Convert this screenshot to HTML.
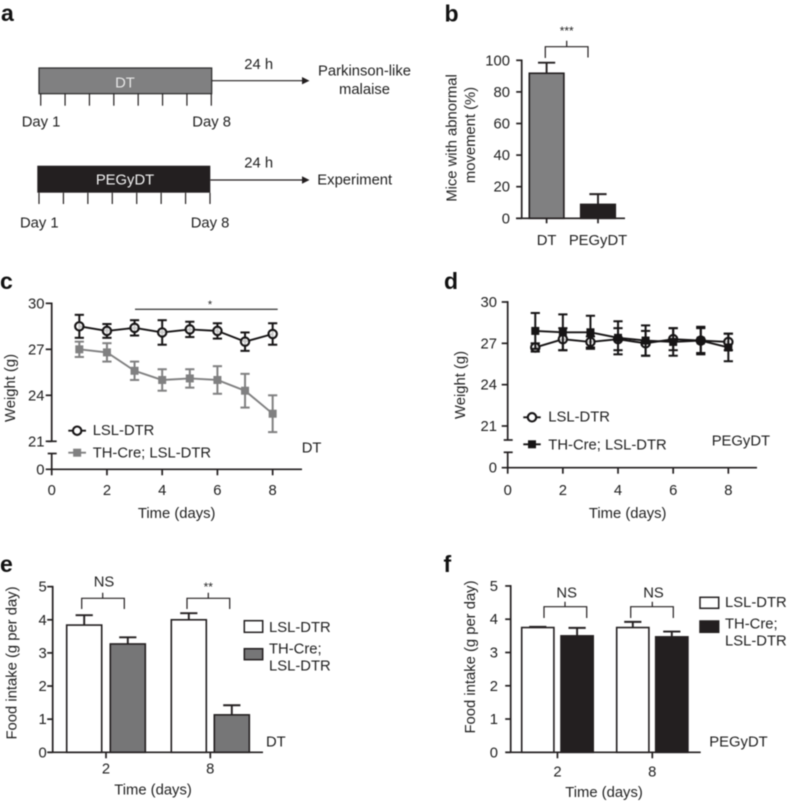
<!DOCTYPE html>
<html lang="en">
<head>
<meta charset="utf-8">
<title>Weight and food intake panels</title>
<style>
html,body{margin:0;padding:0;background:#fff;width:788px;height:802px;overflow:hidden}
svg{display:block;filter:blur(0.4px)}
text{font-family:"Liberation Sans",Arial,sans-serif;font-size:14.8px;fill:#1f1f1f}
.letter{font-size:23px;font-weight:bold;fill:#111}
.mid{text-anchor:middle}
.end{text-anchor:end}
.ax{stroke:#231f20;stroke-width:1.5;fill:none}
</style>
</head>
<body>
<svg id="fig" xmlns="http://www.w3.org/2000/svg" width="788" height="802" viewBox="0 0 788 802">
<rect width="788" height="802" fill="#fff"/>

<g id="panel-a">
<text class="letter" x="1" y="21">a</text>
<rect x="39" y="68" width="172.7" height="25.7" fill="#808081" stroke="#2a2a2a" stroke-width="1.2"/>
<text class="mid" x="125" y="87.3" style="fill:#e6e6e6">DT</text>
<rect x="37.3" y="165.7" width="173" height="27" fill="#231f20"/>
<text class="mid" x="125" y="184.3" style="fill:#f2f2f2">PEGyDT</text>
<text x="21.7" y="126.7">Day 1</text>
<text x="192.3" y="126.7">Day 8</text>
<text x="20" y="227.7">Day 1</text>
<text x="190.7" y="227.7">Day 8</text>
<text x="244.3" y="69">24 h</text>
<text x="244.3" y="167.7">24 h</text>
<line class="ax" x1="211.7" y1="80.7" x2="303" y2="80.7" style="stroke-width:1.2"/>
<polygon points="302,77 309.5,80.7 302,84.4" fill="#231f20"/>
<line class="ax" x1="210.3" y1="180" x2="303" y2="180" style="stroke-width:1.2"/>
<polygon points="302,176.3 309.5,180 302,183.7" fill="#231f20"/>
<text class="mid" x="364.5" y="75.7">Parkinson-like</text>
<text class="mid" x="364.5" y="94">malaise</text>
<text x="317.3" y="184.3">Experiment</text>
</g>

<g id="panel-b">
<text class="letter" x="444.5" y="21.5">b</text>
<text class="mid" transform="translate(456.5 138) rotate(-90)">Mice with abnormal</text>
<text class="mid" transform="translate(475 135) rotate(-90)">movement (%)</text>
<text class="mid" x="566.7" y="35" style="font-size:12px">***</text>
<path class="ax" style="stroke-width:1.2" d="M545.3 58V46.7H588V57.5M566.7 46.7V40.7"/>
</g>

<g id="panel-c">
<text class="letter" x="0" y="289">c</text>
<text class="mid" transform="translate(15 388) rotate(-90)">Weight (g)</text>
<text class="mid" x="176.7" y="518">Time (days)</text>
<line x1="135" y1="309.3" x2="277.7" y2="309.3" stroke="#444" stroke-width="1.4"/>
<text class="mid" x="210" y="308" style="font-size:11px">*</text>
<text x="92.7" y="435">LSL-DTR</text>
<text x="92.7" y="457.7">TH-Cre; LSL-DTR</text>
<text x="301.7" y="452.7">DT</text>
</g>

<g id="panel-d">
<text class="letter" x="444" y="289">d</text>
<text class="mid" transform="translate(465 385) rotate(-90)">Weight (g)</text>
<text class="mid" x="627.7" y="518">Time (days)</text>
<text x="548.3" y="421.7">LSL-DTR</text>
<text x="548.3" y="449.3">TH-Cre; LSL-DTR</text>
<text x="711.7" y="445.7">PEGyDT</text>
</g>

<g id="panel-e">
<text class="letter" x="0" y="572">e</text>
<text class="mid" transform="translate(16.7 663) rotate(-90)">Food intake (g per day)</text>
<text class="mid" x="153" y="794.3">Time (days)</text>
<text class="mid" x="104" y="586.7">NS</text>
<text class="mid" x="208.3" y="591" style="font-size:12px">**</text>
<path class="ax" style="stroke-width:1.2" d="M81.7 609V598.3H124.3V609M102.7 598.3V592.7"/>
<path class="ax" style="stroke-width:1.2" d="M187 609V598.3H229.7V609M208.3 598.3V592.7"/>
<rect x="244.3" y="620.7" width="18.4" height="11.6" fill="#fff" stroke="#231f20" stroke-width="1.5"/>
<rect x="244.3" y="648.7" width="18.4" height="11" fill="#767677" stroke="#231f20" stroke-width="1.5"/>
<text x="269" y="632">LSL-DTR</text>
<text x="269" y="653.5">TH-Cre;</text>
<text x="269" y="670.7">LSL-DTR</text>
<text x="266" y="746.7">DT</text>
</g>

<g id="panel-f">
<text class="letter" x="443.5" y="572">f</text>
<text class="mid" transform="translate(475 657) rotate(-90)">Food intake (g per day)</text>
<text class="mid" x="604" y="797">Time (days)</text>
<text class="mid" x="566.7" y="597.3">NS</text>
<text class="mid" x="653.5" y="597.3">NS</text>
<path class="ax" style="stroke-width:1.2" d="M544 618V606.7H586.7V618M565 606.7V601.7"/>
<path class="ax" style="stroke-width:1.2" d="M630.7 618V606.7H673.3V618M652.3 606.7V601.7"/>
<rect x="700" y="597.3" width="18.7" height="11" fill="#fff" stroke="#231f20" stroke-width="1.5"/>
<rect x="700" y="621" width="18.7" height="11.3" fill="#231f20" stroke="#231f20" stroke-width="1.5"/>
<text x="725" y="607">LSL-DTR</text>
<text x="725" y="628.3">TH-Cre;</text>
<text x="725" y="645.7">LSL-DTR</text>
<text x="709.3" y="746.7">PEGyDT</text>
</g>
</svg>

<script>
/* ---------- chart data ---------- */
var days = [1, 2, 3, 4, 5, 6, 7, 8];
var weightXTicks = [0, 2, 4, 6, 8];
var weightYTicks = [21, 24, 27, 30];

var cLslMean = [28.5, 28.2, 28.4, 28.1, 28.3, 28.2, 27.5, 28.0];
var cLslErr  = [0.75, 0.45, 0.5, 0.8, 0.5, 0.5, 0.6, 0.7];
var cThMean  = [27.0, 26.8, 25.6, 25.0, 25.1, 25.0, 24.3, 22.8];
var cThErr   = [0.5, 0.6, 0.6, 0.7, 0.6, 0.9, 1.1, 1.2];

var dLslMean = [26.7, 27.3, 27.1, 27.3, 27.0, 27.3, 27.2, 27.1];
var dLslErr  = [0.3, 0.8, 0.4, 0.8, 0.9, 0.8, 0.9, 0.6];
var dThMean  = [27.9, 27.8, 27.8, 27.4, 27.2, 27.1, 27.2, 26.7];
var dThErr   = [1.3, 1.3, 1.2, 1.2, 1.1, 1.0, 1.0, 1.0];

var bCategories = ['DT', 'PEGyDT'];
var bValues = [91.8, 8.8];
var bErrors = [6.7, 6.5];
var bYTicks = [0, 20, 40, 60, 80, 100];

var foodCategories = ['2', '8'];
var foodYTicks = [0, 1, 2, 3, 4, 5];
var eLslValues = [3.84, 4.0];
var eLslErrors = [0.3, 0.2];
var eThValues = [3.27, 1.13];
var eThErrors = [0.2, 0.29];
var fLslValues = [3.75, 3.75];
var fLslErrors = [0.02, 0.17];
var fThValues = [3.5, 3.47];
var fThErrors = [0.24, 0.16];

/* ---------- helpers ---------- */
var NS = 'http://www.w3.org/2000/svg';
function make(parent, tag, attrs, name) {
  var el = document.createElementNS(NS, tag);
  for (var k in attrs) { el.setAttribute(k, attrs[k]); }
  
  
  parent.appendChild(el);
  return el;
}
function seg(parent, x1, y1, x2, y2, color, w, name) {
  return make(parent, 'line', {x1: x1, y1: y1, x2: x2, y2: y2, stroke: color, 'stroke-width': w}, name);
}
function label(parent, x, y, str, anchor, name) {
  var el = make(parent, 'text', {x: x, y: y, 'text-anchor': anchor}, name);
  el.textContent = str;
  return el;
}
var INK = '#231f20';
var GREY = '#808081';
var AXW = 1.7;

/* ---------- line charts (c, d) ---------- */
function drawWeight(opts) {
  var g = document.getElementById(opts.panel);
  var x = function (d) { return opts.x0 + d * opts.xUnit; };
  var y = function (v) { return opts.y21 - (v - 21) * opts.yUnit; };

  // axes
  seg(g, opts.x0, y(30) - 0.8, opts.x0, opts.breakTop, INK, AXW, 'y-axis-upper');
  seg(g, opts.x0, opts.breakBottom, opts.x0, opts.y0, INK, AXW, 'y-axis-lower');
  seg(g, opts.x0 - 4, opts.breakTop, opts.x0 + 5, opts.breakTop, INK, AXW, 'y-axis-break-top');
  seg(g, opts.x0 - 4, opts.breakBottom, opts.x0 + 5, opts.breakBottom, INK, AXW, 'y-axis-break-bottom');
  seg(g, opts.x0 - 6, opts.y0, opts.xEnd, opts.y0, INK, AXW, 'x-axis');
  weightYTicks.forEach(function (t) {
    seg(g, opts.x0 - 6, y(t), opts.x0, y(t), INK, AXW, 'y-tick');
    label(g, opts.labelRight, y(t) + 5, String(t), 'end', 'y-tick-label');
  });
  label(g, opts.labelRight, opts.y0 + 5, '0', 'end', 'y-tick-label-zero');
  weightXTicks.forEach(function (t) {
    seg(g, x(t), opts.y0, x(t), opts.y0 + 6, INK, AXW, 'x-tick');
    label(g, x(t), 495, String(t), 'middle', 'x-tick-label');
  });

  function series(means, errs, color, kind, name) {
    var pts = days.map(function (d, i) { return x(d) + ',' + y(means[i]); }).join(' ');
    make(g, 'polyline', {points: pts, fill: 'none', stroke: color, 'stroke-width': 1.9}, name + '-line');
    days.forEach(function (d, i) {
      var px = x(d), hi = y(means[i] + errs[i]), lo = y(means[i] - errs[i]), py = y(means[i]);
      seg(g, px, hi, px, lo, color, 2, name + '-error-bar');
      seg(g, px - 4.6, hi, px + 4.6, hi, color, 2, name + '-error-cap-high');
      seg(g, px - 4.6, lo, px + 4.6, lo, color, 2, name + '-error-cap-low');
      if (kind === 'circle') {
        make(g, 'circle', {cx: px, cy: py, r: 4.2, fill: 'rgba(255,255,255,0.78)', stroke: color, 'stroke-width': 2.1}, name + '-point');
      } else {
        make(g, 'rect', {x: px - 4, y: py - 4, width: 8, height: 8, fill: color}, name + '-point');
      }
    });
  }
  // later series paints on top, as in the source figure
  opts.series.forEach(function (s) { series(s.means, s.errs, s.color, s.kind, s.name); });

  // legend keys
  opts.series.forEach(function (s) {
    seg(g, opts.legendX1, s.legendY, opts.legendX2, s.legendY, s.color, 1.9, s.name + '-legend-line');
    var mx = (opts.legendX1 + opts.legendX2) / 2;
    if (s.kind === 'circle') {
      make(g, 'circle', {cx: mx, cy: s.legendY, r: 4.2, fill: '#fff', stroke: s.color, 'stroke-width': 2.1}, s.name + '-legend-marker');
    } else {
      make(g, 'rect', {x: mx - 4, y: s.legendY - 4, width: 8, height: 8, fill: s.color}, s.name + '-legend-marker');
    }
  });
}

drawWeight({
  panel: 'panel-c', x0: 51.7, xUnit: 27.62, y21: 441.3, yUnit: 15.33, y0: 469.3,
  xEnd: 302, breakTop: 441.3, breakBottom: 453.5, labelRight: 44.5,
  legendX1: 68.3, legendX2: 86,
  series: [
    {means: cThMean, errs: cThErr, color: GREY, kind: 'square', name: 'th-cre-series-c', legendY: 452.7},
    {means: cLslMean, errs: cLslErr, color: '#161415', kind: 'circle', name: 'lsl-dtr-series-c', legendY: 430.7}
  ]
});
drawWeight({
  panel: 'panel-d', x0: 507.7, xUnit: 27.58, y21: 426, yUnit: 13.78, y0: 467.7,
  xEnd: 757, breakTop: 440, breakBottom: 452.3, labelRight: 497,
  legendX1: 523.3, legendX2: 540.7,
  series: [
    {means: dLslMean, errs: dLslErr, color: '#161415', kind: 'circle', name: 'lsl-dtr-series-d', legendY: 417.3},
    {means: dThMean, errs: dThErr, color: '#161415', kind: 'square', name: 'th-cre-series-d', legendY: 444.3}
  ]
});

/* ---------- bar charts ---------- */
function drawBar(g, left, right, y, value, err, fill, name) {
  var cx = (left + right) / 2;
  var top = y(value), hi = y(value + err);
  seg(g, cx, top, cx, hi, INK, 1.9, name + '-error-bar');
  seg(g, cx - 8.6, hi, cx + 8.6, hi, INK, 1.9, name + '-error-cap');
  make(g, 'rect', {x: left, y: top, width: right - left, height: y(0) - top, fill: fill, stroke: INK, 'stroke-width': 1.6}, name);
}
function drawYAxis(g, x0, y, ticks, labelRight, xStart, xEnd) {
  seg(g, x0, y(ticks[ticks.length - 1]) - 0.8, x0, y(0), INK, AXW, 'y-axis');
  seg(g, xStart, y(0), xEnd, y(0), INK, AXW, 'x-axis');
  ticks.forEach(function (t) {
    seg(g, x0 - 5.5, y(t), x0, y(t), INK, AXW, 'y-tick');
    label(g, labelRight, y(t) + 5, String(t), 'end', 'y-tick-label');
  });
}

(function panelB() {
  var g = document.getElementById('panel-b');
  var y = function (v) { return 218.3 - v * 1.58; };
  var lefts = [529.3, 580.7];
  var barWidth = 34.6;
  var fills = [GREY, INK];
  drawYAxis(g, 521.7, y, bYTicks, 510, 516, 625);
  bCategories.forEach(function (c, i) {
    var cx = lefts[i] + barWidth / 2;
    drawBar(g, lefts[i], lefts[i] + barWidth, y, bValues[i], bErrors[i], fills[i], 'bar-' + c.toLowerCase());
    seg(g, cx, y(0), cx, y(0) + 5, INK, AXW, 'x-tick');
    label(g, cx, 245, c, 'middle', 'x-tick-label');
  });
})();

function drawFood(opts) {
  var g = document.getElementById(opts.panel);
  var y = function (v) { return opts.y0 - v * opts.yUnit; };
  drawYAxis(g, opts.x0, y, foodYTicks, opts.labelRight, opts.x0 - 5, opts.xEnd);
  foodCategories.forEach(function (c, i) {
    drawBar(g, opts.lslLefts[i], opts.lslLefts[i] + opts.barWidth, y, opts.lsl[i], opts.lslErr[i], '#fff', 'bar-lsl-dtr-day-' + c);
    drawBar(g, opts.thLefts[i], opts.thLefts[i] + opts.barWidth, y, opts.th[i], opts.thErr[i], opts.thFill, 'bar-th-cre-day-' + c);
    var cx = (opts.lslLefts[i] + opts.thLefts[i] + opts.barWidth) / 2;
    seg(g, cx, y(0), cx, y(0) + 6, INK, AXW, 'x-tick');
    label(g, cx, opts.tickBase, c, 'middle', 'x-tick-label');
  });
}
drawFood({
  panel: 'panel-e', x0: 52.7, y0: 752.3, yUnit: 33.13, xEnd: 263, labelRight: 46.7,
  lslLefts: [66.7, 171.3], thLefts: [110.3, 214.3], barWidth: 35,
  lsl: eLslValues, lslErr: eLslErrors, th: eThValues, thErr: eThErrors,
  thFill: '#767677', tickBase: 773.3
});
drawFood({
  panel: 'panel-f', x0: 510.7, y0: 752.3, yUnit: 33.27, xEnd: 700.7, labelRight: 498,
  lslLefts: [521.7, 616.7], thLefts: [561, 655.7], barWidth: 32.2,
  lsl: fLslValues, lslErr: fLslErrors, th: fThValues, thErr: fThErrors,
  thFill: INK, tickBase: 776.7
});

/* ---------- panel a tick marks ---------- */
(function panelATicks() {
  var g = document.getElementById('panel-a');
  var count = 8;
  for (var i = 0; i < count; i++) {
    var p1 = 40.7 + i * (211.3 - 40.7) / (count - 1);
    seg(g, p1, 93.7, p1, 105.7, INK, 1.2, 'dt-day-tick');
    var p2 = 39 + i * (210 - 39) / (count - 1);
    seg(g, p2, 192.7, p2, 204, INK, 1.2, 'pegydt-day-tick');
  }
})();
</script>
</body>
</html>
